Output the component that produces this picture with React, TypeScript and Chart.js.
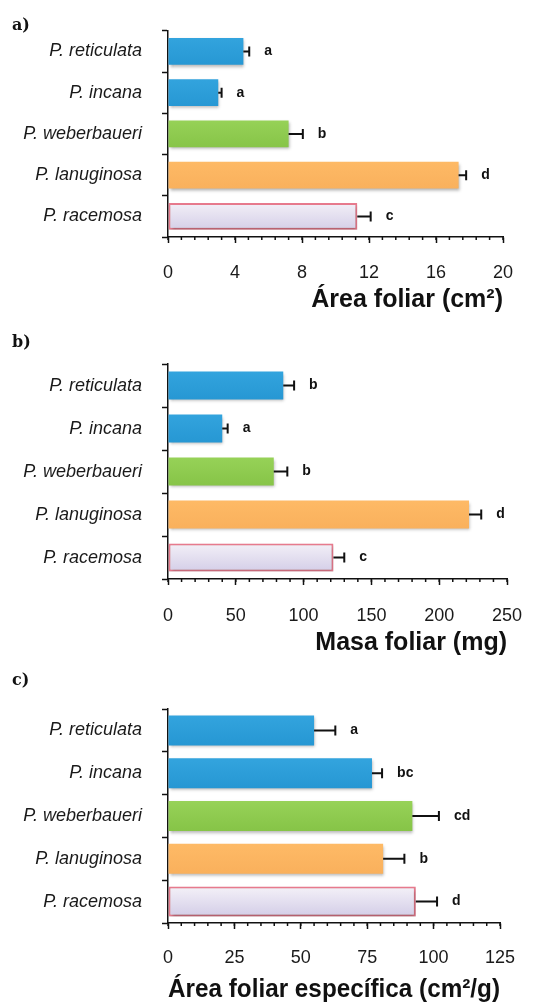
import React, { useEffect, useRef } from "react";
import { Chart, registerables } from "chart.js";

Chart.register(...registerables);

const species = ["P. reticulata", "P. incana", "P. weberbaueri", "P. lanuginosa", "P. racemosa"];

const areaValues = [4.5, 3.0, 7.2, 17.35, 11.3];
const areaErrors = [0.35, 0.2, 0.85, 0.45, 0.8];
const areaLetters = ["a", "a", "b", "d", "c"];

const massValues = [85, 40, 78, 222, 122];
const massErrors = [8, 4, 10, 9, 8];
const massLetters = ["b", "a", "b", "d", "c"];

const slaValues = [55, 76.8, 92, 81, 93.3];
const slaErrors = [8, 3.8, 10, 8, 8];
const slaLetters = ["a", "bc", "cd", "b", "d"];

const FONT = "'Liberation Sans', Arial, Helvetica, sans-serif";

type Layout = {
  canvasTop: number;
  height: number;
  axisTop: number;
  axisBottom: number;
  labelCenter: number;
  titleCenter: number;
  right: number;
};

type PanelProps = {
  tag: string;
  values: number[];
  errors: number[];
  letters: string[];
  max: number;
  step: number;
  title: string;
  lay: Layout;
  barPct: number;
};

const solid = ["#2d9fda", "#2d9fda", "#90cd4e", "#fdb762", "#e0dbee"];
const gradTop = ["#33a4de", "#33a4de", "#97d258", "#feba66", "#f4f1f8"];
const gradBottom = ["#2697d3", "#2697d3", "#86c447", "#f9b05c", "#d3cde7"];

function Panel({ tag, values, errors, letters, max, step, title, lay, barPct }: PanelProps) {
  const ref = useRef<HTMLCanvasElement | null>(null);

  useEffect(() => {
    if (!ref.current) return;
    const LEFT = 168;
    const tickLen = 6;
    const labelFont = 18;
    const titleFont = 25;
    const labelLH = labelFont * 1.2;
    const titleLH = titleFont * 1.2;
    const xAxisHeight = lay.titleCenter + titleLH / 2 - lay.axisBottom;
    const tickPad = lay.labelCenter - labelLH / 2 - lay.axisBottom - tickLen;

    const errPlugin = {
      id: "errs",
      beforeDatasetsDraw(chart: any) {
        const ctx = chart.ctx;
        ctx.save();
        ctx.shadowColor = "rgba(0,0,0,0.3)";
        ctx.shadowBlur = 3;
        ctx.shadowOffsetX = 1;
        ctx.shadowOffsetY = 2;
      },
      afterDatasetsDraw(chart: any) {
        const ctx = chart.ctx;
        ctx.restore();
        const xs = chart.scales.x;
        const ys = chart.scales.y;
        ctx.save();
        ctx.strokeStyle = "#111";
        ctx.lineWidth = 2;
        values.forEach((v, i) => {
          const x0 = xs.getPixelForValue(v);
          const x1 = xs.getPixelForValue(v + errors[i]);
          const y = ys.getPixelForValue(i);
          ctx.beginPath();
          ctx.moveTo(x0, y);
          ctx.lineTo(x1, y);
          ctx.moveTo(x1, y - 5);
          ctx.lineTo(x1, y + 5);
          ctx.stroke();
          ctx.fillStyle = "#111";
          ctx.font = `bold 14px ${FONT}`;
          ctx.textAlign = "left";
          ctx.textBaseline = "middle";
          ctx.fillText(letters[i], x1 + 15, y);
        });
        const minor = step / 5;
        ctx.lineWidth = 1.5;
        for (let k = 0; k * minor <= max + 1e-9; k++) {
          const x = xs.getPixelForValue(k * minor);
          ctx.beginPath();
          ctx.moveTo(x, xs.top);
          ctx.lineTo(x, xs.top + 3);
          ctx.stroke();
        }
        ctx.restore();
      },
    };

    const chart = new Chart(ref.current, {
      type: "bar",
      data: {
        labels: species,
        datasets: [
          {
            data: values,
            backgroundColor: (c: any) => {
              const i = c.dataIndex;
              const ch = c.chart;
              if (i === undefined) return solid[0];
              const ys = ch.scales && ch.scales.y;
              if (!ys) return solid[i];
              const y = ys.getPixelForValue(i);
              if (!Number.isFinite(y)) return solid[i];
              const g = ch.ctx.createLinearGradient(0, y - 15, 0, y + 15);
              g.addColorStop(0, gradTop[i]);
              g.addColorStop(1, gradBottom[i]);
              return g;
            },
            borderColor: ["#2d9fda", "#2d9fda", "#90cd4e", "#fdb762", "#e77a8d"],
            borderWidth: [0, 0, 0, 0, 2],
            borderSkipped: false,
            barPercentage: barPct,
            categoryPercentage: 1,
          },
        ],
      },
      options: {
        indexAxis: "y",
        animation: false,
        responsive: true,
        maintainAspectRatio: false,
        layout: {
          padding: {
            top: lay.axisTop - lay.canvasTop,
            bottom: lay.canvasTop + lay.height - (lay.titleCenter + titleLH / 2),
            left: 0,
            right: 543 - lay.right,
          },
        },
        plugins: {
          legend: { display: false },
          tooltip: { enabled: false },
        },
        scales: {
          x: {
            min: 0,
            max: max,
            ticks: {
              stepSize: step,
              color: "#1a1a1a",
              padding: tickPad,
              font: { family: FONT, size: labelFont },
              maxRotation: 0,
            },
            grid: {
              drawOnChartArea: false,
              drawTicks: true,
              tickLength: tickLen,
              tickColor: "#111",
              tickWidth: 1.5,
            },
            border: { color: "#111", width: 1.5 },
            title: {
              display: true,
              text: title,
              align: "end",
              color: "#111",
              padding: { top: 0, bottom: 0 },
              font: { family: FONT, size: titleFont, weight: "bold" },
            },
            afterFit(scale: any) {
              scale.height = xAxisHeight;
            },
          },
          y: {
            ticks: {
              color: "#1a1a1a",
              padding: 20,
              font: { family: FONT, size: labelFont, style: "italic" },
            },
            grid: {
              drawOnChartArea: false,
              drawTicks: true,
              offset: true,
              tickLength: tickLen,
              tickColor: "#111",
              tickWidth: 1.5,
            },
            border: { color: "#111", width: 1.5 },
            afterFit(scale: any) {
              scale.width = LEFT;
            },
          },
        },
      },
      plugins: [errPlugin],
    } as any);
    return () => chart.destroy();
  }, []);

  return (
    <div style={{ position: "absolute", left: 0, top: lay.canvasTop, width: 543, height: lay.height }}>
      <canvas ref={ref} />
      <div
        style={{
          position: "absolute",
          left: 12,
          top: (tag === "a)" ? 25 : tag === "b)" ? 12 : 20) - 11,
          fontFamily: "'DejaVu Serif', 'Liberation Serif', serif",
          fontWeight: "bold",
          fontSize: 16,
          lineHeight: "22px",
          color: "#111",
        }}
      >
        {tag}
      </div>
    </div>
  );
}

export default function App() {
  return (
    <div style={{ position: "absolute", left: 0, top: 0, width: 543, height: 1008, background: "#fff" }}>
      <Panel
        tag="a)"
        values={areaValues}
        errors={areaErrors}
        letters={areaLetters}
        max={20}
        step={4}
        title="Área foliar (cm²)"
        barPct={0.65}
        lay={{ canvasTop: 0, height: 330, axisTop: 19, axisBottom: 237, labelCenter: 273, titleCenter: 300, right: 503 }}
      />
      <Panel
        tag="b)"
        values={massValues}
        errors={massErrors}
        letters={massLetters}
        max={250}
        step={50}
        title="Masa foliar (mg)"
        barPct={0.65}
        lay={{ canvasTop: 330, height: 330, axisTop: 364, axisBottom: 579, labelCenter: 616, titleCenter: 643, right: 507 }}
      />
      <Panel
        tag="c)"
        values={slaValues}
        errors={slaErrors}
        letters={slaLetters}
        max={125}
        step={25}
        title="Área foliar específica (cm²/g)"
        barPct={0.7}
        lay={{ canvasTop: 660, height: 348, axisTop: 709, axisBottom: 923, labelCenter: 958, titleCenter: 990, right: 500 }}
      />
    </div>
  );
}
